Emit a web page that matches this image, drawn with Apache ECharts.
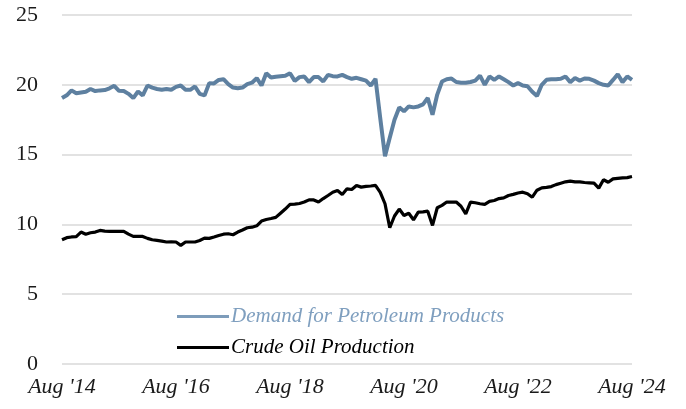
<!DOCTYPE html>
<html>
<head>
<meta charset="utf-8">
<script src="https://cdn.jsdelivr.net/npm/echarts@6/dist/echarts.min.js"></script>
<style>
  html, body { margin: 0; padding: 0; background: #fff; }
  #chart { width: 686px; height: 409px; }
</style>
</head>
<body>
<div id="chart"></div>
<script>
// monthly, Aug 2014 .. Aug 2024 (million barrels per day)
const demand = [
  19.05, 19.25, 19.6, 19.4, 19.45, 19.5, 19.7, 19.55, 19.6, 19.62,
  19.75, 19.93, 19.57, 19.55, 19.35, 19.05, 19.52, 19.24, 19.95, 19.8,
  19.7, 19.64, 19.7, 19.64, 19.85, 19.95, 19.64, 19.64, 19.88, 19.35,
  19.24, 20.12, 20.1, 20.35, 20.4, 20.05, 19.8, 19.76, 19.8, 20.05,
  20.15, 20.48, 19.95, 20.83, 20.52, 20.58, 20.62, 20.65, 20.83, 20.28,
  20.55, 20.6, 20.19, 20.55, 20.55, 20.24, 20.71, 20.62, 20.6, 20.71,
  20.55, 20.43, 20.5, 20.4, 20.3, 19.95, 20.43, 17.6, 14.88, 16.2,
  17.5, 18.38, 18.1, 18.45, 18.38, 18.45, 18.6, 19.05, 17.86, 19.3,
  20.24, 20.4, 20.45, 20.2, 20.15, 20.15, 20.2, 20.3, 20.66, 20.0,
  20.6, 20.36, 20.6, 20.4, 20.19, 19.95, 20.12, 19.95, 19.9, 19.5,
  19.2, 20.0, 20.36, 20.4, 20.4, 20.43, 20.6, 20.19, 20.48, 20.3,
  20.45, 20.43, 20.3, 20.12, 20.0, 19.95, 20.35, 20.76, 20.19, 20.6,
  20.36
];
const crude = [
  8.9, 9.05, 9.1, 9.13, 9.45, 9.3, 9.4, 9.45, 9.57, 9.52,
  9.5, 9.5, 9.5, 9.5, 9.3, 9.14, 9.14, 9.14, 9.0, 8.9,
  8.85, 8.8, 8.74, 8.75, 8.74, 8.5, 8.74, 8.74, 8.74, 8.85,
  9.02, 9.0, 9.1, 9.21, 9.3, 9.33, 9.26, 9.45, 9.6, 9.76,
  9.8, 9.9, 10.24, 10.35, 10.42, 10.5, 10.8, 11.1, 11.43, 11.45,
  11.5, 11.6, 11.76, 11.75, 11.6, 11.85, 12.07, 12.3, 12.43, 12.14,
  12.55, 12.5, 12.79, 12.67, 12.72, 12.75, 12.79, 12.3, 11.48, 9.76,
  10.6, 11.1, 10.64, 10.8, 10.33, 10.88, 10.9, 10.95, 9.93, 11.19,
  11.36, 11.6, 11.6, 11.6, 11.3, 10.76, 11.6, 11.55, 11.48, 11.43,
  11.65, 11.71, 11.85, 11.9, 12.07, 12.15, 12.25, 12.31, 12.2, 11.95,
  12.45, 12.62, 12.65, 12.71, 12.85, 12.95, 13.05, 13.1, 13.05, 13.05,
  13.0, 12.98, 12.95, 12.6, 13.2, 13.02, 13.26, 13.3, 13.33, 13.35,
  13.43
];
const monthNames = ['Jan', 'Feb', 'Mar', 'Apr', 'May', 'Jun', 'Jul', 'Aug', 'Sep', 'Oct', 'Nov', 'Dec'];
const startYear = 2014;
const startMonth = 7; // Aug
const yTicks = [0, 5, 10, 15, 20, 25];

const months = demand.map((_, i) => {
  const m = (startMonth + i) % 12;
  const y = startYear + Math.floor((startMonth + i) / 12);
  return monthNames[m] + " '" + String(y).slice(2);
});

const serif = '"Liberation Serif", "DejaVu Serif", serif';

const chart = echarts.init(document.getElementById('chart'));
chart.setOption({
  animation: false,
  grid: { left: 62, right: 54, top: 15, bottom: 45 },
  legend: {
    orient: 'vertical',
    left: 172,
    top: 301,
    icon: 'rect',
    itemWidth: 52,
    itemHeight: 3,
    itemGap: 10,
    textStyle: { fontFamily: serif, fontStyle: 'italic', fontSize: 21, color: '#000', padding: [0, 0, 0, -3] },
    data: [
      { name: 'Demand for Petroleum Products', itemStyle: { color: '#7d9cba' }, textStyle: { color: '#7f9fbf' } },
      { name: 'Crude Oil Production', itemStyle: { color: '#000' }, textStyle: { color: '#000' } }
    ]
  },
  xAxis: {
    type: 'category',
    data: months,
    boundaryGap: false,
    axisLine: { show: false },
    axisTick: { show: false },
    axisLabel: {
      interval: 23,
      showMaxLabel: true,
      margin: 12,
      fontFamily: serif,
      fontStyle: 'italic',
      fontSize: 22,
      color: '#1a1a1a'
    }
  },
  yAxis: {
    type: 'value',
    min: yTicks[0],
    max: yTicks[yTicks.length - 1],
    interval: 5,
    axisLine: { show: false },
    axisTick: { show: false },
    splitLine: { lineStyle: { color: '#d9d9d9', width: 1.5 } },
    axisLabel: {
      margin: 24,
      fontFamily: serif,
      fontSize: 22,
      color: '#1a1a1a'
    }
  },
  series: [
    {
      name: 'Demand for Petroleum Products',
      type: 'line',
      data: demand,
      symbol: 'none',
      lineStyle: { color: '#5e80a0', width: 4 },
      itemStyle: { color: '#7d9cba' },
      z: 3
    },
    {
      name: 'Crude Oil Production',
      type: 'line',
      data: crude,
      symbol: 'none',
      lineStyle: { color: '#000', width: 3.2 },
      itemStyle: { color: '#000' },
      z: 2
    }
  ]
});
</script>
</body>
</html>
